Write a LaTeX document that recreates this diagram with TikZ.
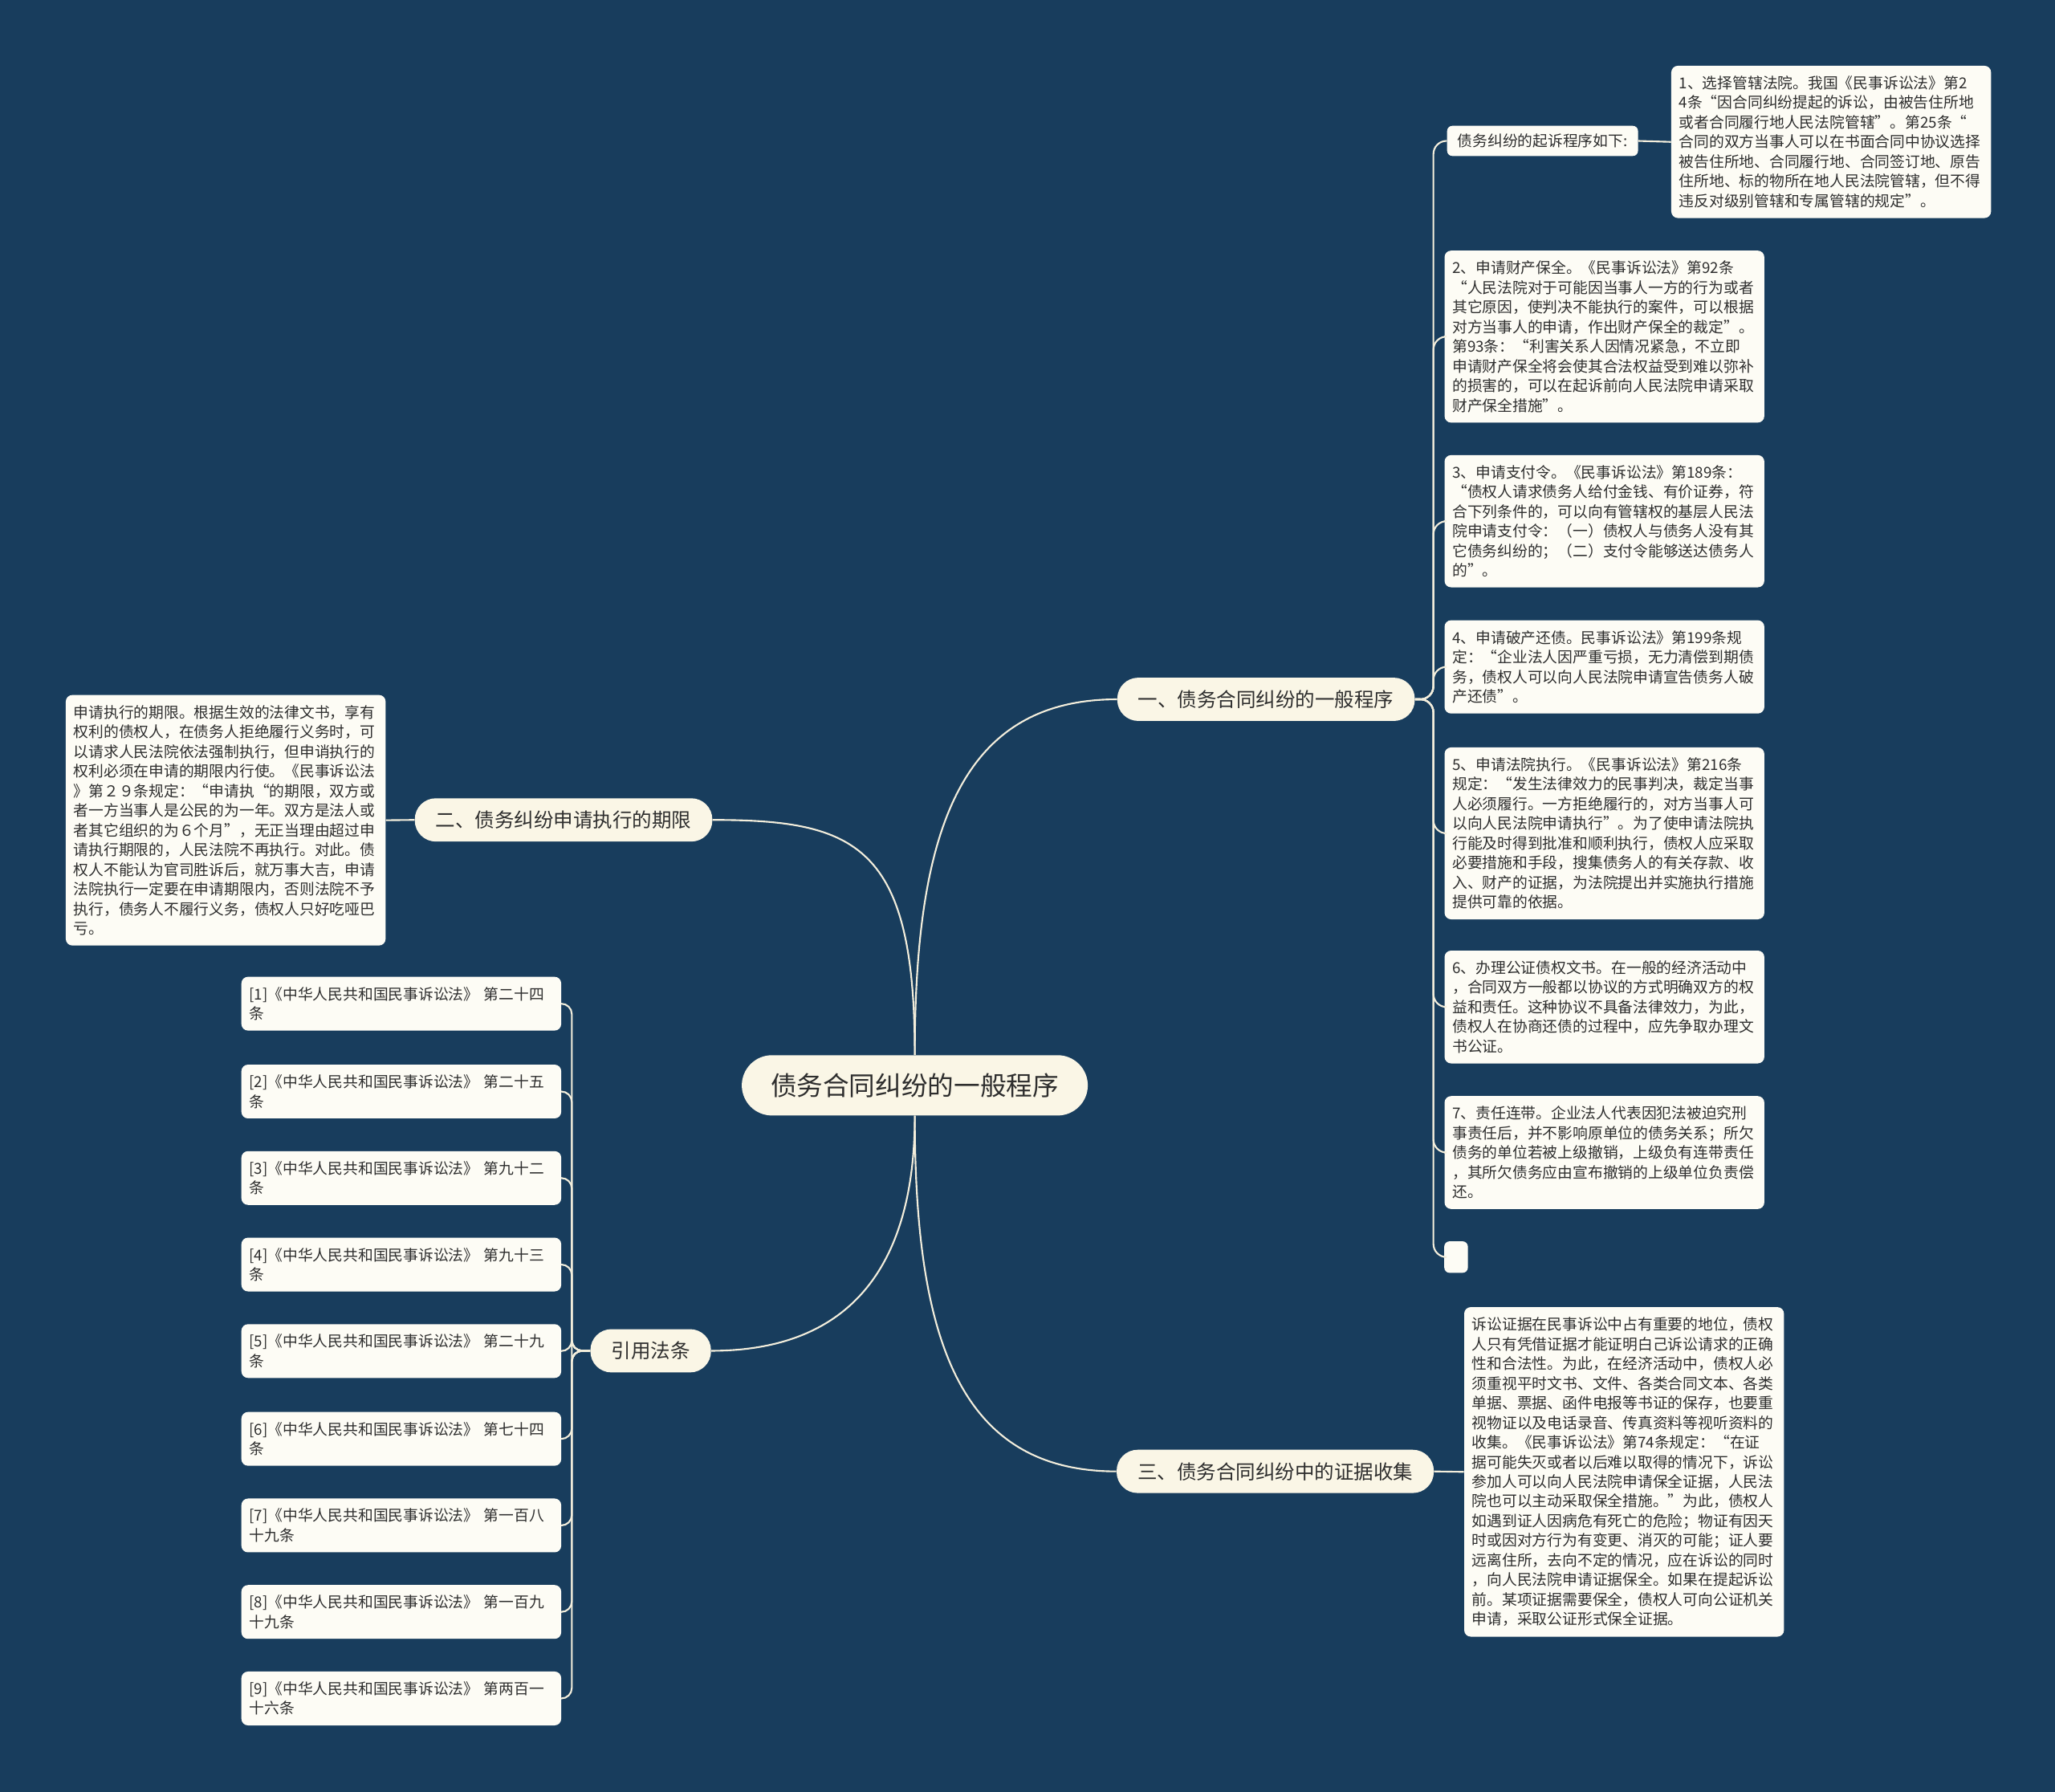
\documentclass[tikz,border=0pt]{standalone}
\usepackage{fontspec}
\setmainfont{Noto Sans CJK SC}
\definecolor{navy}{HTML}{183D5D}
\definecolor{ink}{HTML}{2E2E2E}
\definecolor{topfill}{HTML}{FAF6E6}
\definecolor{leaffill}{HTML}{FDFCF5}
\definecolor{linecol}{HTML}{F3EEDC}
\begin{document}
\begin{tikzpicture}[x=1pt,y=-1pt,
  root/.style={fill=topfill,text=ink,rounded corners=23pt,minimum height=46pt,inner xsep=22pt,font=\fontsize{20}{24}\selectfont},
  branch/.style={fill=topfill,text=ink,rounded corners=16pt,minimum height=33pt,inner xsep=16pt,font=\fontsize{15}{18}\selectfont},
  leaf/.style={fill=leaffill,text=ink,rounded corners=5pt,anchor=north west,text width=232pt,align=left,inner xsep=6pt,inner ysep=7.7pt,font=\fontsize{11.5}{15}\selectfont},
  tag/.style={fill=leaffill,text=ink,rounded corners=4pt,minimum height=23pt,inner xsep=8pt,font=\fontsize{11.5}{14}\selectfont},
  link/.style={draw=linecol,line width=1.3pt}]

% canvas
\fill[navy] (0,0) rectangle (1568,1367);

% centre and main branches
\node[root] (root) at (698,828) {债务合同纠纷的一般程序};
\node[branch] (one) at (966,533.5) {一、债务合同纠纷的一般程序};
\node[branch] (two) at (430,625.5) {二、债务纠纷申请执行的期限};
\node[branch] (three) at (973,1122.5) {三、债务合同纠纷中的证据收集};
\node[branch] (cite) at (496.5,1030.5) {引用法条};

\draw[link] (root.north) .. controls +(0,-170) and +(-120,0) .. (one.west);
\draw[link] (two.east) .. controls +(110,0) and +(0,-160) .. (root.north);
\draw[link] (cite.east) .. controls +(110,0) and +(0,110) .. (root.south);
\draw[link] (root.south) .. controls +(0,170) and +(-120,0) .. (three.west);

% branch one
\node[tag] (steps) at (1177,107.5) {债务纠纷的起诉程序如下:};
\node[leaf] (court) at (1275,50) {1、选择管辖法院。我国《民事诉讼法》第2\\
4条“因合同纠纷提起的诉讼，由被告住所地\\
或者合同履行地人民法院管辖”。第25条“\\
合同的双方当事人可以在书面合同中协议选择\\
被告住所地、合同履行地、合同签订地、原告\\
住所地、标的物所在地人民法院管辖，但不得\\
违反对级别管辖和专属管辖的规定”。};
\node[leaf] (keep) at (1102,191) {2、申请财产保全。《民事诉讼法》第92条\\
“人民法院对于可能因当事人一方的行为或者\\
其它原因，使判决不能执行的案件，可以根据\\
对方当事人的申请，作出财产保全的裁定”。\\
第93条：“利害关系人因情况紧急，不立即\\
申请财产保全将会使其合法权益受到难以弥补\\
的损害的，可以在起诉前向人民法院申请采取\\
财产保全措施”。};
\node[leaf] (order) at (1102,347) {3、申请支付令。《民事诉讼法》第189条：\\
“债权人请求债务人给付金钱、有价证券，符\\
合下列条件的，可以向有管辖权的基层人民法\\
院申请支付令：（一）债权人与债务人没有其\\
它债务纠纷的；（二）支付令能够送达债务人\\
的”。};
\node[leaf] (bankrupt) at (1102,473) {4、申请破产还债。民事诉讼法》第199条规\\
定：“企业法人因严重亏损，无力清偿到期债\\
务，债权人可以向人民法院申请宣告债务人破\\
产还债”。};
\node[leaf] (enforce) at (1102,570) {5、申请法院执行。《民事诉讼法》第216条\\
规定：“发生法律效力的民事判决，裁定当事\\
人必须履行。一方拒绝履行的，对方当事人可\\
以向人民法院申请执行”。为了使申请法院执\\
行能及时得到批准和顺利执行，债权人应采取\\
必要措施和手段，搜集债务人的有关存款、收\\
入、财产的证据，为法院提出并实施执行措施\\
提供可靠的依据。};
\node[leaf] (notary) at (1102,725) {6、办理公证债权文书。在一般的经济活动中\\
，合同双方一般都以协议的方式明确双方的权\\
益和责任。这种协议不具备法律效力，为此，\\
债权人在协商还债的过程中，应先争取办理文\\
书公证。};
\node[leaf] (joint) at (1102,836) {7、责任连带。企业法人代表因犯法被迫究刑\\
事责任后，并不影响原单位的债务关系；所欠\\
债务的单位若被上级撤销，上级负有连带责任\\
，其所欠债务应由宣布撤销的上级单位负责偿\\
还。};
\node[fill=leaffill,rounded corners=4pt,minimum width=18pt,minimum height=24pt,inner sep=0pt] (blank) at (1111,959) {};

\draw[link] (steps.east) -- (court.west);
\draw[link,rounded corners=10pt] (one.east) -- ++(14,0) |- (steps.west);
\draw[link,rounded corners=10pt] (one.east) -- ++(14,0) |- (keep.west);
\draw[link,rounded corners=10pt] (one.east) -- ++(14,0) |- (order.west);
\draw[link,rounded corners=10pt] (one.east) -- ++(14,0) |- (bankrupt.west);
\draw[link,rounded corners=10pt] (one.east) -- ++(14,0) |- (enforce.west);
\draw[link,rounded corners=10pt] (one.east) -- ++(14,0) |- (notary.west);
\draw[link,rounded corners=10pt] (one.east) -- ++(14,0) |- (joint.west);
\draw[link,rounded corners=10pt] (one.east) -- ++(14,0) |- (blank.west);

% branch two
\node[leaf] (limit) at (50,530) {申请执行的期限。根据生效的法律文书，享有\\
权利的债权人，在债务人拒绝履行义务时，可\\
以请求人民法院依法强制执行，但申诮执行的\\
权利必须在申请的期限内行使。《民事诉讼法\\
》第２９条规定：“申请执“的期限，双方或\\
者一方当事人是公民的为一年。双方是法人或\\
者其它组织的为６个月”，无正当理由超过申\\
请执行期限的，人民法院不再执行。对此。债\\
权人不能认为官司胜诉后，就万事大吉，申请\\
法院执行一定要在申请期限内，否则法院不予\\
执行，债务人不履行义务，债权人只好吃哑巴\\
亏。};
\draw[link] (two.west) -- (limit.east);

% branch three
\node[leaf] (proof) at (1117,997) {诉讼证据在民事诉讼中占有重要的地位，债权\\
人只有凭借证据才能证明白己诉讼请求的正确\\
性和合法性。为此，在经济活动中，债权人必\\
须重视平时文书、文件、各类合同文本、各类\\
单据、票据、函件电报等书证的保存，也要重\\
视物证以及电话录音、传真资料等视听资料的\\
收集。《民事诉讼法》第74条规定：“在证\\
据可能失灭或者以后难以取得的情况下，诉讼\\
参加人可以向人民法院申请保全证据，人民法\\
院也可以主动采取保全措施。”为此，债权人\\
如遇到证人因病危有死亡的危险；物证有因天\\
时或因对方行为有变更、消灭的可能；证人要\\
远离住所，去向不定的情况，应在诉讼的同时\\
，向人民法院申请证据保全。如果在提起诉讼\\
前。某项证据需要保全，债权人可向公证机关\\
申请，采取公证形式保全证据。};
\draw[link] (three.east) -- (proof.west);

% cited articles
\node[leaf] (c1) at (184,745) {[1]《中华人民共和国民事诉讼法》~第二十四\\条};
\node[leaf] (c2) at (184,812) {[2]《中华人民共和国民事诉讼法》~第二十五\\条};
\node[leaf] (c3) at (184,878) {[3]《中华人民共和国民事诉讼法》~第九十二\\条};
\node[leaf] (c4) at (184,944) {[4]《中华人民共和国民事诉讼法》~第九十三\\条};
\node[leaf] (c5) at (184,1010) {[5]《中华人民共和国民事诉讼法》~第二十九\\条};
\node[leaf] (c6) at (184,1077) {[6]《中华人民共和国民事诉讼法》~第七十四\\条};
\node[leaf] (c7) at (184,1143) {[7]《中华人民共和国民事诉讼法》~第一百八\\十九条};
\node[leaf] (c8) at (184,1209) {[8]《中华人民共和国民事诉讼法》~第一百九\\十九条};
\node[leaf] (c9) at (184,1275) {[9]《中华人民共和国民事诉讼法》~第两百一\\十六条};

\draw[link,rounded corners=8pt] (cite.west) -- ++(-14,0) |- (c1.east);
\draw[link,rounded corners=8pt] (cite.west) -- ++(-14,0) |- (c2.east);
\draw[link,rounded corners=8pt] (cite.west) -- ++(-14,0) |- (c3.east);
\draw[link,rounded corners=8pt] (cite.west) -- ++(-14,0) |- (c4.east);
\draw[link,rounded corners=8pt] (cite.west) -- ++(-14,0) |- (c5.east);
\draw[link,rounded corners=8pt] (cite.west) -- ++(-14,0) |- (c6.east);
\draw[link,rounded corners=8pt] (cite.west) -- ++(-14,0) |- (c7.east);
\draw[link,rounded corners=8pt] (cite.west) -- ++(-14,0) |- (c8.east);
\draw[link,rounded corners=8pt] (cite.west) -- ++(-14,0) |- (c9.east);

\end{tikzpicture}
\end{document}
